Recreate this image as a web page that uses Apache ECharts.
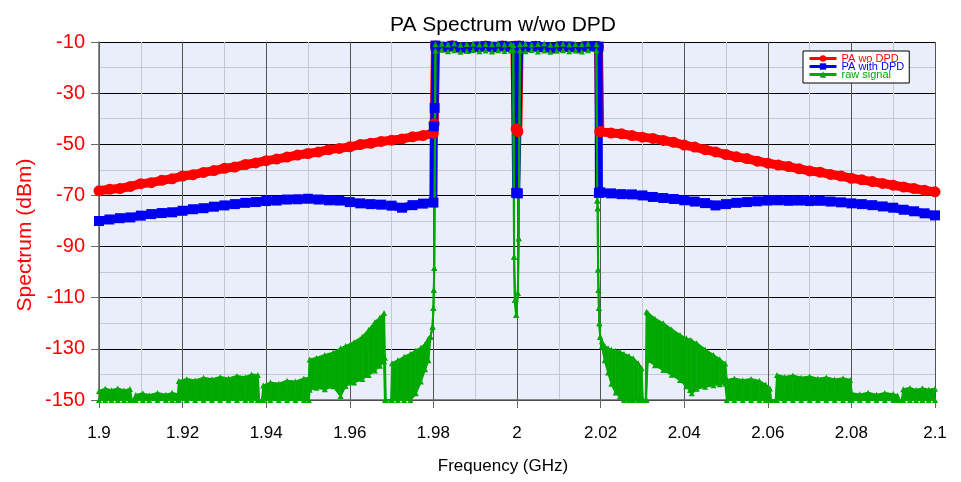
<!DOCTYPE html>
<html>
<head>
<meta charset="utf-8">
<script src="https://cdn.jsdelivr.net/npm/echarts@6/dist/echarts.min.js"></script>
<style>
  html, body { margin: 0; padding: 0; background: #fff; }
  #chart { width: 961px; height: 482px; }
</style>
</head>
<body>
<div id="chart"></div>
<script>
// frequency grid of the out-of-band sides (GHz)
const freqL = [1.9, 1.9025, 1.905, 1.9075, 1.91, 1.9125, 1.915, 1.9175, 1.92, 1.9225, 1.925, 1.9275, 1.93, 1.9325, 1.935, 1.9375, 1.94, 1.9425, 1.945, 1.9475, 1.95, 1.9525, 1.955, 1.9575, 1.96, 1.9625, 1.965, 1.9675, 1.97, 1.9725, 1.975, 1.9775, 1.98];
const freqR = [2.02, 2.0225, 2.025, 2.0275, 2.03, 2.0325, 2.035, 2.0375, 2.04, 2.0425, 2.045, 2.0475, 2.05, 2.0525, 2.055, 2.0575, 2.06, 2.0625, 2.065, 2.0675, 2.07, 2.0725, 2.075, 2.0775, 2.08, 2.0825, 2.085, 2.0875, 2.09, 2.0925, 2.095, 2.0975, 2.1];

// PA wo DPD (dBm)
const redL = [-68.2, -67.6, -67.3, -66.5, -65.4, -65.0, -64.1, -63.5, -62.4, -61.9, -61.0, -60.3, -59.4, -58.9, -57.9, -57.3, -56.4, -55.8, -55.0, -54.2, -53.6, -53.0, -52.1, -51.6, -51.0, -50.1, -49.6, -48.9, -48.4, -47.9, -47.1, -46.6, -45.6];
const redMid = [[1.9802, -42.0], [1.9805, -11.6], [1.9825, -12.0], [1.9845, -11.5], [1.9865, -12.2], [1.9885, -12.4], [1.9905, -11.9], [1.9925, -11.6], [1.9945, -12.0], [1.9965, -11.6], [1.9985, -11.9], [1.9995, -11.7], [1.9998, -44.0], [2.0002, -45.0], [2.0005, -11.6], [2.0025, -12.0], [2.0045, -11.7], [2.0065, -12.1], [2.0085, -12.4], [2.0105, -11.8], [2.0125, -11.9], [2.0145, -12.3], [2.0165, -11.8], [2.0185, -11.7], [2.0195, -11.9], [2.0198, -45.0]];
const redR = [-45.0, -45.6, -45.9, -46.6, -47.2, -47.7, -48.5, -49.2, -50.3, -51.1, -52.1, -53.0, -54.0, -54.9, -55.6, -56.6, -57.4, -58.1, -58.7, -59.6, -60.4, -60.9, -61.8, -62.4, -63.3, -63.9, -64.6, -65.3, -66.0, -66.7, -67.3, -68.0, -68.6];

// PA with DPD (dBm)
const blueL = [-80.0, -79.4, -78.9, -78.6, -77.9, -77.3, -76.9, -76.6, -76.0, -75.4, -75.0, -74.4, -73.9, -73.4, -72.9, -72.6, -72.2, -72.0, -71.6, -71.5, -71.3, -71.6, -71.9, -72.0, -72.6, -73.1, -73.4, -73.6, -74.0, -74.8, -73.8, -73.2, -72.8];
const blueMid = [[1.9801, -43.0], [1.9803, -35.8], [1.9805, -11.4], [1.9825, -11.9], [1.9845, -11.5], [1.9865, -12.1], [1.9885, -12.4], [1.9905, -11.8], [1.9925, -11.6], [1.9945, -11.9], [1.9965, -11.5], [1.9985, -11.8], [1.9995, -11.6], [1.9998, -69.0], [2.0002, -69.2], [2.0005, -11.5], [2.0025, -11.9], [2.0045, -11.6], [2.0065, -12.0], [2.0085, -12.3], [2.0105, -11.7], [2.0125, -11.8], [2.0145, -12.2], [2.0165, -11.7], [2.0185, -11.6], [2.0195, -11.8], [2.0196, -69.0]];
const blueR = [-68.8, -69.2, -69.5, -69.6, -70.0, -70.6, -71.0, -71.4, -71.9, -72.4, -73.0, -73.9, -73.4, -72.9, -72.6, -72.3, -72.0, -71.9, -72.1, -72.0, -72.2, -72.1, -72.4, -72.7, -73.1, -73.4, -73.8, -74.3, -74.8, -75.6, -76.2, -77.0, -77.8];

// raw signal: [freq, lower edge, upper edge] of the noisy trace
const greenL = [
  [1.9, -150, -146.5], [1.9015, -150, -145.6], [1.903, -150, -146.2], [1.9045, -150, -145.5], [1.906, -150, -146.3], [1.9074, -150, -145.7],
  [1.9078, -150, -150], [1.9084, -150, -150],
  [1.9088, -150, -148.0], [1.9105, -150, -147.4], [1.912, -150, -148.1], [1.914, -150, -147.3], [1.916, -150, -147.9], [1.9175, -150, -147.2], [1.9189, -150, -147.8],
  [1.9191, -150, -142.6], [1.921, -150, -141.8], [1.923, -150, -142.4], [1.925, -150, -141.3], [1.927, -150, -141.9], [1.929, -150, -141.0], [1.931, -150, -141.6], [1.933, -150, -140.6], [1.935, -150, -141.1], [1.9365, -150, -140.0], [1.938, -150, -140.2],
  [1.9383, -150, -150], [1.939, -150, -150],
  [1.9393, -150, -144.3], [1.941, -150, -143.2], [1.943, -150, -143.6], [1.945, -150, -142.5], [1.947, -150, -142.8], [1.949, -150, -141.6], [1.9502, -150, -141.4],
  [1.9504, -146.0, -134.2], [1.952, -145.2, -133.6], [1.954, -145.8, -132.4], [1.956, -144.6, -131.5], [1.9578, -148.4, -129.8], [1.959, -144.5, -128.9], [1.961, -143.2, -127.4], [1.963, -141.8, -125.3], [1.9645, -140.2, -122.6], [1.966, -138.5, -119.6], [1.9672, -136.6, -117.8], [1.9682, -134.8, -116.0],
  [1.9684, -150, -133.5], [1.9686, -150, -150], [1.9699, -150, -150],
  [1.9701, -150, -135.6], [1.9715, -150, -134.5], [1.973, -150, -133.1], [1.9745, -150, -132.0], [1.9758, -147.4, -130.6], [1.977, -142.8, -129.6], [1.978, -138.0, -128.2], [1.9788, -134.5, -126.0],
  [1.9793, -125.3, -125.3], [1.9798, -121.4, -121.4], [1.98, -114.0, -114.0], [1.9801, -107.0, -107.0], [1.9802, -98.4, -98.4]
];
const greenMid = [
  [1.9805, -13.4, -10.9], [1.982, -13.0, -10.7], [1.9835, -13.6, -11.0], [1.985, -13.2, -10.6], [1.9865, -13.8, -11.1], [1.988, -13.5, -10.8], [1.9895, -13.1, -10.7], [1.991, -13.6, -11.0], [1.9925, -13.3, -10.8], [1.994, -13.7, -10.9], [1.9955, -13.2, -10.7], [1.997, -13.5, -11.0], [1.9985, -13.3, -10.8], [1.9991, -13.0, -11.2],
  [1.9993, -94.0, -94.0], [1.9995, -110.9, -110.9], [1.9998, -116.8, -116.8], [2.0002, -108.2, -108.2], [2.0004, -86.7, -86.7],
  [2.0007, -13.2, -10.9], [2.002, -13.6, -10.7], [2.0035, -13.1, -11.0], [2.005, -13.7, -10.8], [2.0065, -13.3, -10.6], [2.008, -13.8, -11.1], [2.0095, -13.4, -10.9], [2.011, -13.2, -10.7], [2.0125, -13.6, -11.0], [2.014, -13.3, -10.8], [2.0155, -13.7, -10.9], [2.017, -13.2, -10.7], [2.019, -13.3, -10.9],
  [2.0192, -72.0, -72.0], [2.0193, -75.0, -75.0], [2.0194, -99.0, -99.0], [2.0195, -107.0, -107.0], [2.0196, -114.0, -114.0], [2.0197, -120.0, -120.0]
];
const greenR = [
  [2.0199, -125.3, -125.3], [2.0203, -129.0, -127.0], [2.021, -134.5, -128.9], [2.0218, -139.2, -129.8], [2.0226, -143.6, -130.3], [2.0236, -147.1, -130.7], [2.0246, -148.7, -131.1], [2.0256, -150, -132.0], [2.0268, -150, -132.8], [2.0278, -150, -133.7], [2.029, -150, -135.6], [2.0298, -150, -137.6],
  [2.0301, -150, -150], [2.0308, -150, -150],
  [2.031, -150, -115.5], [2.0313, -134.4, -116.0], [2.033, -136.4, -118.2], [2.035, -138.3, -120.0], [2.037, -140.1, -122.4], [2.039, -142.2, -124.6], [2.0405, -144.6, -125.9], [2.0414, -146.1, -126.5], [2.0418, -147.4, -126.8], [2.043, -145.6, -127.8], [2.045, -144.8, -130.3], [2.047, -144.2, -132.4], [2.0485, -143.8, -134.1], [2.0498, -143.5, -135.7],
  [2.0502, -150, -142.2], [2.052, -150, -141.6], [2.054, -150, -142.3], [2.056, -150, -141.8], [2.058, -150, -142.6], [2.0595, -150, -144.0], [2.0605, -150, -145.5],
  [2.0608, -150, -150], [2.0619, -150, -150],
  [2.0622, -150, -140.2], [2.064, -150, -141.0], [2.066, -150, -140.4], [2.068, -150, -141.3], [2.07, -150, -140.8], [2.072, -150, -141.7], [2.074, -150, -141.2], [2.076, -150, -142.0], [2.078, -150, -141.5], [2.0797, -150, -142.2],
  [2.0801, -150, -147.4], [2.082, -150, -147.8], [2.084, -150, -147.2], [2.086, -150, -147.9], [2.088, -150, -147.3], [2.09, -150, -147.7], [2.091, -150, -148.2],
  [2.0913, -150, -150], [2.0921, -150, -150],
  [2.0924, -150, -145.8], [2.094, -150, -145.3], [2.0955, -150, -146.1], [2.097, -150, -145.4], [2.0985, -150, -146.0], [2.1, -150, -145.6]
];

const FONT = '"Liberation Sans", Arial, Helvetica, sans-serif';
const RED = '#ff0000', BLUE = '#0000f0', GREEN = '#00a800';

function pairs(freqs, vals) {
  return freqs.map((f, i) => [f, vals[i]]);
}
const redData = pairs(freqL, redL).concat(redMid, pairs(freqR, redR));
const blueData = pairs(freqL, blueL).concat(blueMid, pairs(freqR, blueR));
const greenAll = greenL.concat(greenMid, greenR);
const greenLow = greenAll.map(d => [d[0], d[1]]);
const greenHigh = greenAll.map(d => [d[0], d[2]]);

// fills the noisy band between the lower and upper edge, one slice per sample
function renderBand(params, api) {
  const i = params.dataIndex;
  if (i >= greenAll.length - 1) return null;
  const a = greenAll[i], b = greenAll[i + 1];
  const pts = [
    api.coord([a[0], a[1]]), api.coord([a[0], a[2]]),
    api.coord([b[0], b[2]]), api.coord([b[0], b[1]])
  ];
  return {
    type: 'polygon',
    shape: {points: pts},
    style: {fill: GREEN, stroke: GREEN, lineWidth: 0.6}
  };
}

const chart = echarts.init(document.getElementById('chart'), null, {renderer: 'canvas'});
chart.setOption({
  animation: false,
  backgroundColor: '#fff',
  textStyle: {fontFamily: FONT},
  title: {
    text: 'PA Spectrum w/wo DPD',
    left: 385, top: 10,
    textStyle: {fontFamily: FONT, fontSize: 21, fontWeight: 'normal', color: '#000'}
  },
  legend: {
    orient: 'vertical',
    left: 803, top: 51,
    padding: [2, 5, 3, 5],
    itemGap: -3,
    itemWidth: 27,
    itemHeight: 8,
    backgroundColor: '#fff',
    borderColor: '#000',
    borderWidth: 1,
    borderRadius: 0,
    lineStyle: {width: 3},
    textStyle: {fontFamily: FONT, fontSize: 11},
    data: [
      {name: 'PA wo DPD', textStyle: {color: RED}},
      {name: 'PA with DPD', textStyle: {color: BLUE}},
      {name: 'raw signal', textStyle: {color: GREEN}}
    ]
  },
  grid: {
    left: 99, right: 26, top: 42, bottom: 82,
    show: true,
    backgroundColor: '#e9eefa',
    borderWidth: 0
  },
  xAxis: {
    type: 'value',
    min: 1.9, max: 2.1, interval: 0.02,
    axisLine: {lineStyle: {color: '#666', width: 1.5}},
    axisTick: {show: true, length: 8, lineStyle: {color: '#666'}},
    axisLabel: {
      color: '#000', fontSize: 17, margin: 25, fontFamily: FONT,
      formatter: v => String(+v.toFixed(2))
    },
    splitLine: {show: true, lineStyle: {color: '#555', width: 1}},
    minorTick: {show: false, splitNumber: 2},
    minorSplitLine: {show: true, lineStyle: {color: '#c4c8d4', width: 1}}
  },
  yAxis: {
    type: 'value',
    min: -150, max: -10, interval: 20,
    axisLine: {show: true, lineStyle: {color: '#666', width: 1.5}},
    axisTick: {show: true, length: 8, lineStyle: {color: '#666'}},
    axisLabel: {color: RED, fontSize: 20, margin: 14, fontFamily: FONT},
    splitLine: {show: true, lineStyle: {color: '#000', width: 1}},
    minorTick: {show: false, splitNumber: 2},
    minorSplitLine: {show: true, lineStyle: {color: '#c4c8d4', width: 1}}
  },
  graphic: [
    {
      type: 'text', x: 25, y: 235, rotation: Math.PI / 2,
      style: {text: 'Spectrum (dBm)', fill: RED, font: '21px ' + FONT, align: 'center', verticalAlign: 'middle'}
    },
    {
      type: 'text', x: 503, y: 466,
      style: {text: 'Frequency (GHz)', fill: '#000', font: '17px ' + FONT, align: 'center', verticalAlign: 'middle'}
    }
  ],
  series: [
    {
      name: 'PA wo DPD', type: 'line', data: redData,
      symbol: 'circle', symbolSize: 11, color: RED,
      lineStyle: {color: RED, width: 9},
      itemStyle: {color: RED}
    },
    {
      name: 'PA with DPD', type: 'line', data: blueData,
      symbol: 'rect', symbolSize: 10, color: BLUE,
      lineStyle: {color: BLUE, width: 8},
      itemStyle: {color: BLUE}
    },
    {
      name: 'raw band', type: 'custom', data: greenAll,
      renderItem: renderBand, clip: true,
      encode: {x: 0, y: [1, 2]}
    },
    {
      name: 'raw low', type: 'line', data: greenLow,
      symbol: 'triangle', symbolSize: 6,
      lineStyle: {color: GREEN, width: 2},
      itemStyle: {color: GREEN}
    },
    {
      name: 'raw signal', type: 'line', data: greenHigh,
      symbol: 'triangle', symbolSize: 6, color: GREEN,
      lineStyle: {color: GREEN, width: 2},
      itemStyle: {color: GREEN}
    }
  ]
});
</script>
</body>
</html>
